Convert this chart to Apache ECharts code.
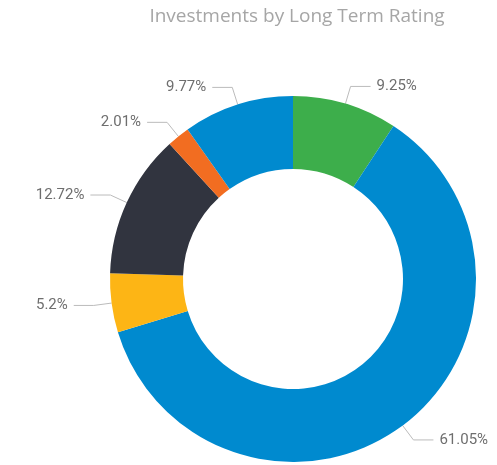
<!DOCTYPE html>
<html>
<head>
<meta charset="utf-8">
<script src="https://cdn.jsdelivr.net/npm/echarts@6/dist/echarts.min.js"></script>
<style>
  html, body { margin: 0; padding: 0; background: #fff; }
  #chart { width: 497px; height: 465px; }
</style>
</head>
<body>
<div id="chart"></div>
<script>
// slices clockwise from 12 o'clock
const ratings = ["Rating 1", "Rating 2", "Rating 3", "Rating 4", "Rating 5", "Rating 6"];
const shares = [9.25, 61.05, 5.2, 12.72, 2.01, 9.77];
const sliceColors = ["#3DAE4B", "#008ACF", "#FDB515", "#31343F", "#F26D21", "#008ACF"];

const chart = echarts.init(document.getElementById("chart"));

chart.setOption({
  animation: false,
  title: {
    text: "Investments by Long Term Rating",
    left: 292,
    textAlign: "center",
    top: 2,
    textStyle: {
      fontFamily: "Open Sans",
      fontSize: 19,
      fontWeight: "normal",
      color: "#a6a6a6"
    }
  },
  series: [
    {
      type: "pie",
      center: [293, 279],
      radius: [110, 183],
      startAngle: 90,
      clockwise: true,
      data: ratings.map((r, i) => ({
        name: r,
        value: shares[i],
        itemStyle: { color: sliceColors[i] }
      })),
      label: {
        formatter: "{c}%",
        fontFamily: "Roboto",
        fontSize: 15,
        color: "#6e6e6e",
        distanceToLabelLine: 6,
        overflow: "none"
      },
      labelLine: {
        length: 18,
        length2: 20,
        lineStyle: { color: "#bbbbbb", width: 1 }
      }
    }
  ]
});
</script>
</body>
</html>
